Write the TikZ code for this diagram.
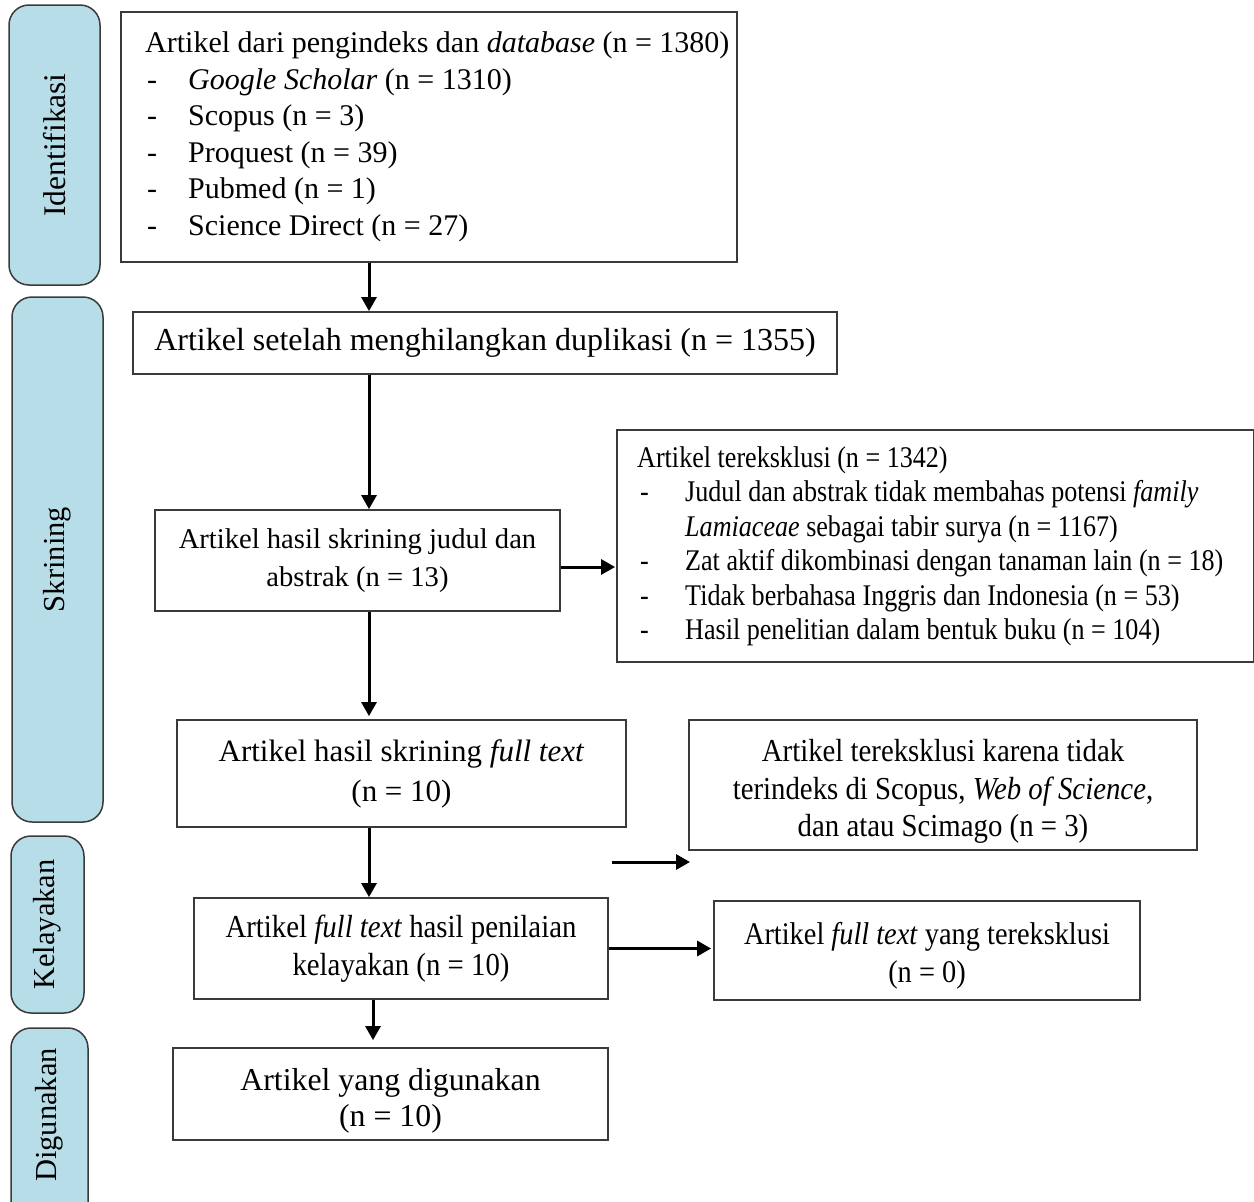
\documentclass[tikz,border=0pt]{standalone}
\usepackage{fontspec}
\setmainfont{Liberation Serif}
\newfontfamily\condA[FakeStretch=0.87]{Liberation Serif}
\newfontfamily\condB[FakeStretch=0.9]{Liberation Serif}
\usetikzlibrary{arrows.meta,calc}
\definecolor{lblue}{HTML}{B7DEE8}
\definecolor{edge}{HTML}{3A3A3A}
\begin{document}
\begin{tikzpicture}[x=1pt,y=-1pt,
  box/.style={draw=edge, line width=1.8pt, inner sep=0pt, align=center},
  txt/.style={inner sep=0pt, align=center},
  side/.style={draw=edge, fill=lblue, line width=1.5pt, rounded corners=20pt, inner sep=0pt,
    font=\fontsize{30.5}{36}\selectfont},
  arr/.style={line width=3pt, -{Triangle[length=14pt,width=15pt]}},
]
\useasboundingbox (0,0) rectangle (1254,1202);

% side labels
\node[side, rotate=90, minimum width=280pt, minimum height=91pt, font=\fontsize{31.5}{36}\selectfont] (l1) at (54.5,145) {Identifikasi};
\node[side, rotate=90, minimum width=525pt, minimum height=91pt] (l2) at (57.5,559.5) {Skrining};
\node[side, rotate=90, minimum width=177pt, minimum height=73pt] (l3) at (47.5,924.5) {Kelayakan};
\begin{scope}
\clip (0,0) rectangle (1254,1202);
\node[side, rotate=90, minimum width=212pt, minimum height=77pt] (l4) at (49.5,1134) {};
\node[rotate=90, inner sep=0pt, font=\fontsize{30.5}{36}\selectfont] (l4t) at (49.5,1115) {Digunakan};
\end{scope}

% main boxes
\node[box, minimum width=616pt, minimum height=250pt] (b1) at (429,137) {};
\node[anchor=north west, inner sep=0pt, align=left, font=\fontsize{30}{36.6}\selectfont] (b1t) at (145,31.5) {%
  Artikel dari pengindeks dan \textit{database} (n = 1380)\\
  \makebox[43pt][l]{\hspace{2pt}-}\textit{Google Scholar} (n = 1310)\\
  \makebox[43pt][l]{\hspace{2pt}-}Scopus (n = 3)\\
  \makebox[43pt][l]{\hspace{2pt}-}Proquest (n = 39)\\
  \makebox[43pt][l]{\hspace{2pt}-}Pubmed (n = 1)\\
  \makebox[43pt][l]{\hspace{2pt}-}Science Direct (n = 27)};

\node[box, minimum width=704pt, minimum height=62pt, font=\fontsize{32}{38}\selectfont] (b2) at (485,343)
  {Artikel setelah menghilangkan duplikasi (n = 1355)};

\node[box, minimum width=405pt, minimum height=101pt, font=\fontsize{28.6}{38}\selectfont] (b3) at (357.5,560.5)
  {Artikel hasil skrining judul dan\\abstrak (n = 13)};

\node[box, minimum width=637pt, minimum height=232pt] (b4) at (935.5,546) {};
\node[anchor=north west, inner sep=0pt, align=left, font=\condA\fontsize{30}{34.5}\selectfont] (b4t) at (637,446) {%
  Artikel tereksklusi (n = 1342)\\
  \makebox[48pt][l]{\hspace{3pt}-}Judul dan abstrak tidak membahas potensi \textit{family}\\
  \hspace*{48pt}\textit{Lamiaceae} sebagai tabir surya (n = 1167)\\
  \makebox[48pt][l]{\hspace{3pt}-}Zat aktif dikombinasi dengan tanaman lain (n = 18)\\
  \makebox[48pt][l]{\hspace{3pt}-}Tidak berbahasa Inggris dan Indonesia (n = 53)\\
  \makebox[48pt][l]{\hspace{3pt}-}Hasil penelitian dalam bentuk buku (n = 104)};

\node[box, minimum width=449pt, minimum height=107pt, font=\fontsize{31}{40}\selectfont] (b5) at (401.5,773.5)
  {Artikel hasil skrining \textit{full text}\\(n = 10)};

\node[box, minimum width=508pt, minimum height=130pt] (b6) at (943,785) {};
\node[txt, font=\condB\fontsize{32}{37.5}\selectfont] (b6t) at (943,791.5)
  {Artikel tereksklusi karena tidak\\terindeks di Scopus, \textit{Web of Science},\\dan atau Scimago (n = 3)};

\node[box, minimum width=414pt, minimum height=101pt, font=\condB\fontsize{32}{38}\selectfont] (b7) at (401,948.5)
  {Artikel \textit{full text} hasil penilaian\\kelayakan (n = 10)};

\node[box, minimum width=426pt, minimum height=99pt] (b8) at (927,950.5) {};
\node[txt, font=\condB\fontsize{31.5}{38}\selectfont] (b8t) at (927,955.5)
  {Artikel \textit{full text} yang tereksklusi\\(n = 0)};

\node[box, minimum width=435pt, minimum height=92pt] (b9) at (390.5,1094) {};
\node[txt, font=\fontsize{31.8}{36}\selectfont] (b9t) at (390.5,1101)
  {Artikel yang digunakan\\(n = 10)};

% connectors
\coordinate (ax) at (369,0);
\coordinate (ax2) at (373,0);
\coordinate (a5s) at (612,862);
\coordinate (a5e) at (690,862);
\draw[arr] (b1.south -| ax) -- (b2.north -| ax);
\draw[arr] (b2.south -| ax) -- (b3.north -| ax);
\draw[arr, shorten >=3pt] (b3.south -| ax) -- (b5.north -| ax);
\draw[arr] (b5.south -| ax) -- (b7.north -| ax);
\draw[arr, shorten >=7pt] (b7.south -| ax2) -- (b9.north -| ax2);
\draw[arr, shorten >=1pt] ([yshift=-6.5pt]b3.east) -- ([yshift=-6.5pt]b3.east -| b4.west);
\draw[arr, shorten >=2pt] (b7.east) -- (b7.east -| b8.west);
\draw[arr] (a5s) -- (a5e);
\end{tikzpicture}
\end{document}
